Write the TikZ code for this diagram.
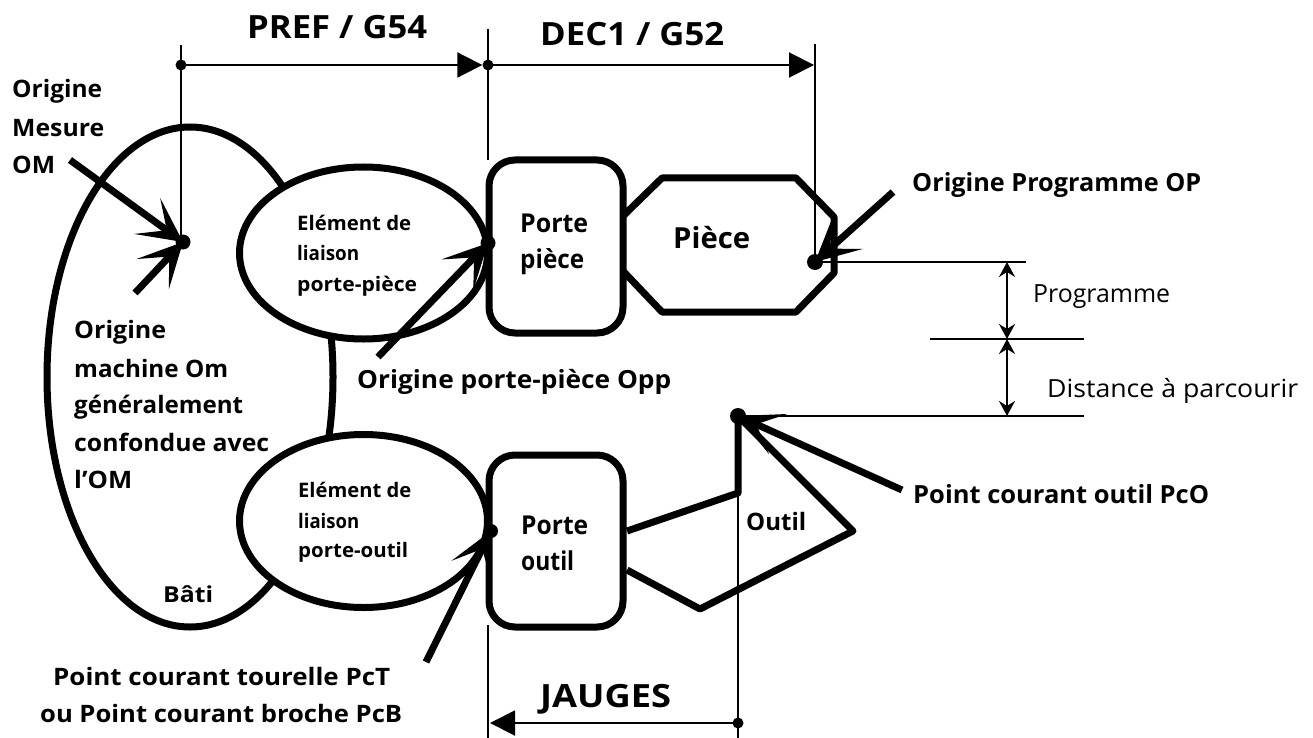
\documentclass[tikz,border=0pt]{standalone}
\usepackage{graphicx}
\usepackage{fontspec}
\setmainfont{Open Sans}
\usetikzlibrary{arrows.meta,shapes.geometric}
\newcommand\fitw[2]{\resizebox{#1pt}{\height}{#2}}
\begin{document}
\begin{tikzpicture}[x=1pt,y=-1pt,
  heavy/.style={line width=7pt,line join=round},
  thinline/.style={line width=2pt},
  dimarrow/.style={line width=2pt,-{Triangle[length=25pt,width=25pt]}},
  smallarrow/.style={line width=2pt,{Stealth[length=15pt,width=16pt,inset=5pt]}-{Stealth[length=15pt,width=16pt,inset=5pt]}},
  pointer/.style={line width=7pt,-{Stealth[length=44pt,width=44pt,inset=24pt]}},
  tb/.style={font=\bfseries\fontsize{#1}{#1}\selectfont,anchor=base west,inner sep=0pt},
  tp/.style={font=\fontsize{#1}{#1}\selectfont,anchor=base west,inner sep=0pt},
  boxn/.style={draw,line width=7pt,rounded corners=26pt,fill=white,minimum width=134pt,minimum height=#1,inner sep=0pt},
  ell/.style={draw,ellipse,line width=7pt,fill=white,minimum width=248pt,minimum height=#1,inner sep=0pt},
  dotm/.style={circle,fill=black,inner sep=0pt,minimum size=#1}]
\useasboundingbox (0,0) rectangle (1313,738);
\fill[white] (0,0) rectangle (1313,738);
% frame of the machine
\node[draw,ellipse,line width=7pt,minimum width=286pt,minimum height=500pt,inner sep=0pt] (bati) at (190,377) {};
\node[ell=172pt] (e1) at (363.5,253) {};
\node[ell=173pt] (e2) at (363.5,521) {};
% boxes
\node[boxn=173pt] (pp) at (556,246.5) {};
\node[boxn=172pt] (po) at (556,541) {};
% work piece
\coordinate (a1) at (623,216);
\coordinate (a2) at (662,178);
\coordinate (a3) at (796,178);
\coordinate (a4) at (834,217);
\coordinate (a5) at (834,273);
\coordinate (a6) at (796,312);
\coordinate (a7) at (662,312);
\coordinate (a8) at (623,271);
\draw[heavy] (a1) -- (a2) -- (a3) -- (a4) -- (a5) -- (a6) -- (a7) -- (a8);
% tool
\coordinate (t1) at (627,531);
\coordinate (t2) at (738,493);
\coordinate (t3) at (738,416);
\coordinate (t4) at (853,531);
\coordinate (t5) at (700,609);
\coordinate (t6) at (627,570);
\draw[heavy] (t1) -- (t2) -- (t3) -- (t4) -- (t5) -- (t6);
% dots
\node[dotm=15pt] (om) at (183,242) {};
\node[dotm=11pt] (tl) at (181,65) {};
\node[dotm=15pt] (opp) at (488,243) {};
\node[dotm=11pt] (dec) at (488,65) {};
\node[dotm=16pt] (op) at (815,262) {};
\node[dotm=16pt] (pco) at (738,416) {};
\node[dotm=14pt] (pct) at (491,531) {};
\node[dotm=11pt] (jr) at (738,723) {};
% reference lines
\coordinate (v1) at (181,45);
\coordinate (v2) at (488,29);
\coordinate (v2b) at (488,160);
\coordinate (v3) at (815,44);
\coordinate (v4) at (488,738);
\coordinate (v4b) at (488,625);
\coordinate (v5) at (738,738);
\coordinate (dr) at (814,65);
\coordinate (jl) at (490,723);
\coordinate (h1) at (1026,262);
\coordinate (h2a) at (930,339);
\coordinate (h2b) at (1084,339);
\coordinate (h3) at (1084,416);
\coordinate (s1) at (1007,262);
\coordinate (s2) at (1007,339);
\coordinate (s3) at (1007,416);
\draw[thinline] (v1) -- (v1 |- om);
\draw[thinline] (v2) -- (v2b);
\draw[thinline] (v3) -- (op.center);
\draw[thinline] (v4) -- (v4b);
\draw[thinline] (v5) -- (t2);
\draw[thinline] (op.center) -- (h1);
\draw[thinline] (h2a) -- (h2b);
\draw[thinline] (pco.center) -- (h3);
\draw[dimarrow] (tl.center) -- (dec.west);
\draw[dimarrow] (dec.center) -- (dr);
\draw[dimarrow] (jr.center) -- (jl);
\draw[smallarrow] (s1) -- (s2);
\draw[smallarrow] (s2) -- (s3);
% pointers
\coordinate (p1) at (70,160);
\coordinate (p2) at (135,293);
\coordinate (p3) at (378,357);
\coordinate (p4) at (893,192);
\coordinate (p5) at (426,662);
\coordinate (p6) at (902,490);
\draw[pointer] (p1) -- (om.center);
\draw[pointer] (p2) -- (om.center);
\draw[pointer] (p3) -- (opp.center);
\draw[pointer] (p4) -- (op.center);
\draw[pointer] (p5) -- (pct.center);
\draw[pointer] (p6) -- (pco.center);
% labels
\node[tb=32] (l1) at (247,39) {\fitw{180}{PREF / G54}};
\node[tb=32] (l2) at (540,46) {\fitw{184}{DEC1 / G52}};
\node[tb=32] (l3) at (540,707) {\fitw{131}{JAUGES}};
\node[tb=24] (l4a) at (12,98) {\fitw{90}{Origine}};
\node[tb=24] (l4b) at (12,137) {\fitw{92}{Mesure}};
\node[tb=24] (l4c) at (12,174) {\fitw{43}{OM}};
\node[tb=24] (l5a) at (74,338) {\fitw{92}{Origine}};
\node[tb=24] (l5b) at (74,377) {\fitw{154}{machine Om}};
\node[tb=24] (l5c) at (74,413) {\fitw{169}{généralement}};
\node[tb=24] (l5d) at (74,451) {\fitw{195}{confondue avec}};
\node[tb=24] (l5e) at (74,488) {\fitw{58}{l’OM}};
\node[tb=20] (l6a) at (297,230) {\fitw{114}{Elément de}};
\node[tb=20] (l6b) at (297,260) {\fitw{62}{liaison}};
\node[tb=20] (l6c) at (297,291) {\fitw{120}{porte-pièce}};
\node[tb=20] (l7a) at (298,497) {\fitw{113}{Elément de}};
\node[tb=20] (l7b) at (298,528) {\fitw{61}{liaison}};
\node[tb=20] (l7c) at (298,557) {\fitw{110}{porte-outil}};
\node[tb=26] (l8a) at (520,232) {\fitw{68}{Porte}};
\node[tb=26] (l8b) at (520,268) {\fitw{64}{pièce}};
\node[tb=29] (l9) at (673,248) {\fitw{77}{Pièce}};
\node[tb=26] (l10a) at (521,534) {\fitw{67}{Porte}};
\node[tb=26] (l10b) at (521,570) {\fitw{53}{outil}};
\node[tb=24] (l11) at (746,530) {\fitw{60}{Outil}};
\node[tb=25] (l12) at (912,191) {\fitw{289}{Origine Programme OP}};
\node[tb=25] (l13) at (357,388) {\fitw{314}{Origine porte-pièce Opp}};
\node[tb=25] (l14) at (913,503) {\fitw{296}{Point courant outil PcO}};
\node[tb=24] (l15) at (53,685) {\fitw{337}{Point courant tourelle PcT}};
\node[tb=24] (l16) at (40,722) {\fitw{362}{ou Point courant broche PcB}};
\node[tb=22] (l17) at (163,602) {\fitw{50}{Bâti}};
\node[tp=25] (l18) at (1033,302) {\fitw{137}{Programme}};
\node[tp=25] (l19) at (1047,397) {\fitw{251}{Distance à parcourir}};
\end{tikzpicture}
\end{document}
